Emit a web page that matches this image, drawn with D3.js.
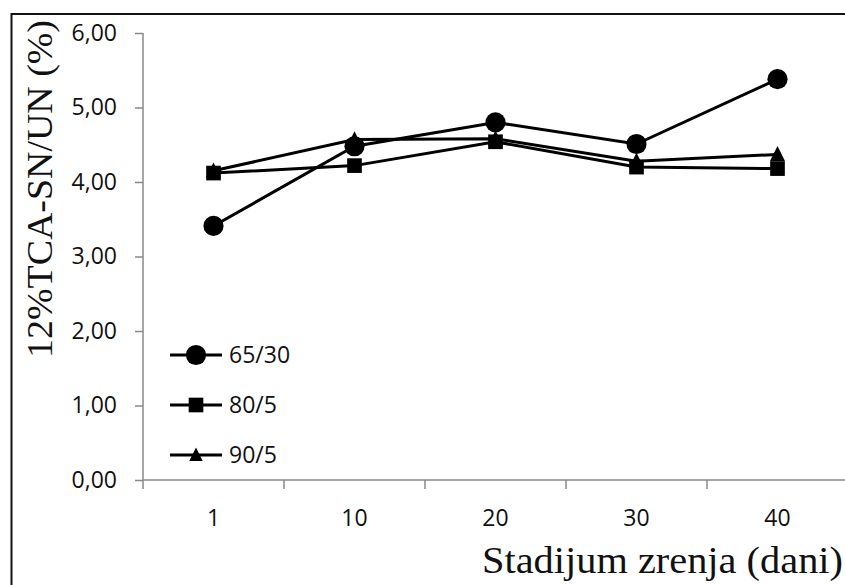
<!DOCTYPE html>
<html><head><meta charset="utf-8">
<script src="https://cdn.jsdelivr.net/npm/d3@7"></script>
<style>body{margin:0;background:#fff}svg{display:block}</style>
</head><body>
<svg id="c" width="845" height="585"></svg>
<script>
const categories = ["1","10","20","30","40"];
const s65_30 = [3.41, 4.48, 4.80, 4.51, 5.38];
const s80_5  = [4.12, 4.22, 4.54, 4.20, 4.18];
const s90_5  = [4.15, 4.57, 4.58, 4.28, 4.37];
const seriesNames = ["65/30","80/5","90/5"];
const symbolsByName = ["circle","square","triangle"];
const yTicks = [0,1,2,3,4,5,6];
const yTitle = "12%TCA-SN/UN (%)";
const xTitle = "Stadijum zrenja (dani)";

const svg = d3.select("#c");
const tickFont = "'Open Sans', sans-serif";
const titleFont = "'Liberation Serif', serif";
const tickSize = 23;

// frame
svg.append("rect").attr("x",11.5).attr("y",14).attr("width",900).attr("height",700)
  .attr("fill","none").attr("stroke","#111").attr("stroke-width",2);

const x = d3.scaleBand().domain(categories).range([143, 848]).paddingInner(0).paddingOuter(0);
const y = d3.scaleLinear().domain([0,6]).range([480, 33]);

// y axis
const yAxis = svg.append("g").attr("transform","translate(143,0)")
  .call(d3.axisLeft(y).tickValues(yTicks).tickSize(8).tickPadding(18)
    .tickFormat(d => d3.format(".2f")(d).replace(".",",")));
yAxis.select(".domain").attr("stroke","#888").attr("stroke-width",1.5).attr("d","M0,"+y(6)+"V"+y(0));
yAxis.selectAll(".tick line").attr("stroke","#888").attr("stroke-width",1.5);
yAxis.selectAll("text").attr("font-family",tickFont).attr("font-size",tickSize).attr("fill","#111");

// x axis
const xg = svg.append("g").attr("transform","translate(0,480)");
xg.append("line").attr("x1",x.range()[0]).attr("x2",x.range()[1]).attr("stroke","#888").attr("stroke-width",1.5);
const bounds = categories.map(c => x(c)).concat([x(categories[categories.length-1]) + x.bandwidth()]);
xg.selectAll(".bt").data(bounds).enter().append("line")
  .attr("x1",d=>d).attr("x2",d=>d).attr("y1",0).attr("y2",9).attr("stroke","#888").attr("stroke-width",1.5);
xg.selectAll(".xl").data(categories).enter().append("text")
  .attr("x",d=>x(d)+x.bandwidth()/2).attr("y",46).attr("text-anchor","middle")
  .attr("font-family",tickFont).attr("font-size",tickSize).attr("fill","#111").text(d=>d);

// titles
svg.append("text").attr("x",482).attr("y",573)
  .attr("textLength",361).attr("lengthAdjust","spacingAndGlyphs")
  .attr("font-family",titleFont).attr("font-size",38).attr("fill","#111").text(xTitle);
svg.append("text").attr("transform","translate(52,358) rotate(-90)")
  .attr("textLength",338).attr("lengthAdjust","spacingAndGlyphs")
  .attr("font-family",titleFont).attr("font-size",36).attr("fill","#111").text(yTitle);

const tri = { draw(ctx, size) { const h = Math.sqrt(size); ctx.moveTo(0,-h*0.55); ctx.lineTo(h*0.5,h*0.45); ctx.lineTo(-h*0.5,h*0.45); ctx.closePath(); } };
const symType = {circle:d3.symbolCircle, square:d3.symbolSquare, triangle:tri};
const symSize = {circle:320, square:215, triangle:230};
const series = [s65_30, s80_5, s90_5];
const line = d3.line().x((d,i)=>x(categories[i])+x.bandwidth()/2).y(d=>y(d));
[2,1,0].forEach(k => {
  const vals = series[k];
  svg.append("path").attr("d",line(vals)).attr("fill","none").attr("stroke","#000").attr("stroke-width",3);
  svg.selectAll(null).data(vals).enter().append("path")
    .attr("transform",(d,i)=>`translate(${x(categories[i])+x.bandwidth()/2},${y(d)})`)
    .attr("d", d3.symbol().type(symType[symbolsByName[k]]).size(symSize[symbolsByName[k]])())
    .attr("fill","#000");
});

// legend
const legY = [355, 405, 455];
seriesNames.forEach((n,k) => {
  const g = svg.append("g").attr("transform",`translate(0,${legY[k]})`);
  g.append("line").attr("x1",170).attr("x2",222).attr("stroke","#000").attr("stroke-width",3.2);
  g.append("path").attr("transform","translate(196,0)")
    .attr("d", d3.symbol().type(symType[symbolsByName[k]]).size(k===2?180:symSize[symbolsByName[k]])()).attr("fill","#000");
  g.append("text").attr("x",229).attr("y",0).attr("dy","0.36em")
    .attr("font-family",tickFont).attr("font-size",tickSize).attr("fill","#111").text(n);
});
</script>
</body></html>
